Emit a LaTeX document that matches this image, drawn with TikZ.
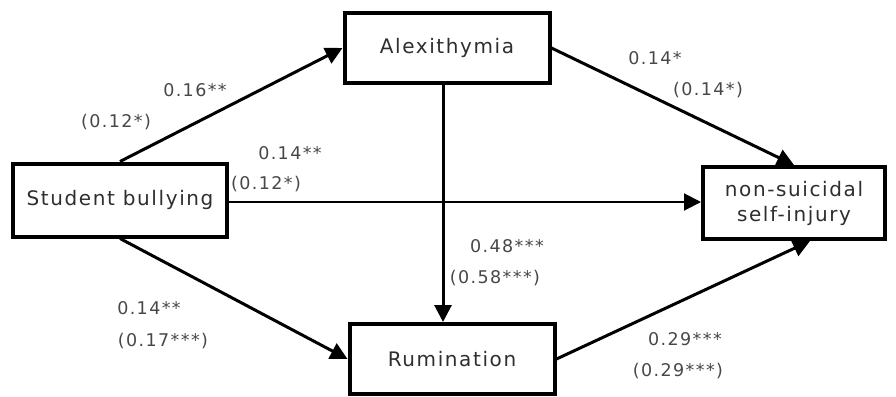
\documentclass[tikz,border=0pt]{standalone}
\usepackage{fontspec}
\setmainfont{DejaVu Sans}[LetterSpace=8]
\usetikzlibrary{arrows.meta}

\begin{document}
\begin{tikzpicture}[x=1pt, y=-1pt,
    link/.style={line width=3pt, -{Triangle[length=17pt, width=17pt]}},
    coef/.style={text=black!72, font=\fontsize{17.5}{20}\selectfont, inner sep=0pt}
  ]
      \useasboundingbox (0, 0) rectangle (896, 396);
      \begin{scope}[
        every node/.style={
        draw,
        line width=4pt,
        minimum height=70pt,
        minimum width=205pt,
        shape=rectangle,
        text=black!82,
        font=\fontsize{20}{25}\selectfont,
        }
      ]
        \node[minimum width=214pt, minimum height=73pt] (s) at (120, 200) {Student bullying};
        \node (a) at (447, 48) {Alexithymia};
        \node[minimum width=182pt, minimum height=72pt, align=center] (n) at (794, 203) {non-suicidal\\self-injury};
        \node (r) at (452, 359) {Rumination};
      \end{scope}

      \draw[link] (s.north) -- (a.west);
      \draw[link, line width=2pt] ([yshift=-2pt]s.east) -- ([yshift=-2pt]s.east -| n.west);
      \draw[link] (a.east) -- (n.north);
      \draw[link] ([xshift=-4pt]a.south) -- ([xshift=-4pt]a.south |- r.north);
      \draw[link] (s.south) -- (r.west);
      \draw[link] (r.east) -- ([xshift=16pt]n.south);

      \node[coef] (c1) at (195, 90) {0.16**};
      \node[coef] (c2) at (116, 122) {(0.12*)};
      \node[coef] (c3) at (290, 153) {0.14**};
      \node[coef] (c4) at (266, 184) {(0.12*)};
      \node[coef] (c5) at (655, 58) {0.14*};
      \node[coef] (c6) at (708, 90) {(0.14*)};
      \node[coef] (c7) at (507, 246) {0.48***};
      \node[coef] (c8) at (495, 278) {(0.58***)};
      \node[coef] (c9) at (149, 308) {0.14**};
      \node[coef] (c10) at (163, 341) {(0.17***)};
      \node[coef] (c11) at (685, 339) {0.29***};
      \node[coef] (c12) at (678, 371) {(0.29***)};
\end{tikzpicture}
\end{document}
